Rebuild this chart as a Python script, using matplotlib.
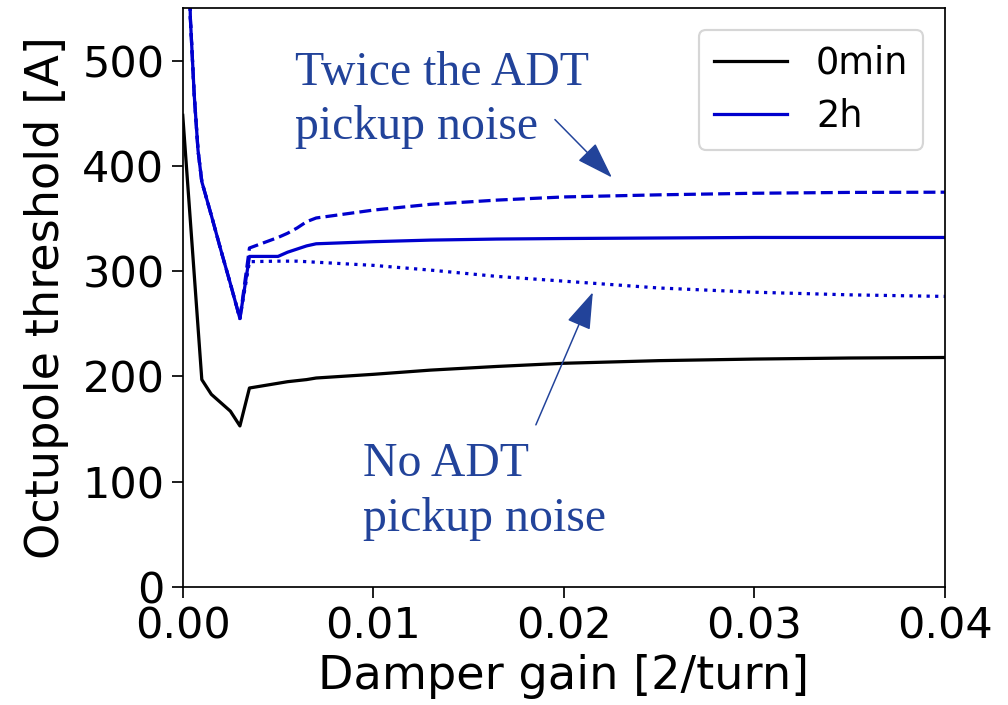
import matplotlib
matplotlib.use("Agg")
import matplotlib.pyplot as plt

# Damper gain grid [2/turn] for the start-of-fill curve
gain_0min = [0.0, 0.001, 0.0015, 0.002, 0.0025, 0.003, 0.0035, 0.005, 0.0055,
             0.006, 0.0065, 0.007, 0.01, 0.013, 0.0165, 0.02, 0.025, 0.03,
             0.035, 0.04]
threshold_0min = [448, 197, 183, 175, 167, 153, 189, 193.5, 195, 196, 197,
                  198.5, 202, 206, 209.5, 212.5, 215, 216.5, 217.5, 218]

# Damper gain grid [2/turn] for the curves after 2 h
gain_2h = [0.0, 0.0004, 0.0006, 0.0008, 0.001, 0.0015, 0.002, 0.0025, 0.003,
           0.0035, 0.005, 0.0055, 0.006, 0.0065, 0.007, 0.01, 0.013, 0.0165,
           0.02, 0.025, 0.03, 0.035, 0.04]
# nominal ADT pickup noise
threshold_2h = [900, 540, 468, 415, 385, 353, 320, 288, 255,
                314, 314, 318, 321, 324, 326, 328, 329.5, 330.5,
                331, 331.5, 332, 332, 332]
# twice the ADT pickup noise
threshold_2h_noise2x = [900, 540, 468, 415, 385, 353, 320, 288, 255,
                        322, 332, 336, 341, 347, 350.5, 358, 363.5, 367.5,
                        370.5, 372.5, 374, 374.8, 375]
# no ADT pickup noise
threshold_2h_nonoise = [900, 540, 468, 415, 385, 353, 320, 288, 255,
                        309, 309.5, 309.5, 309.5, 309, 308.5, 305.5, 301, 295,
                        290.5, 284, 280, 277.5, 276]

DPI = 155
fig = plt.figure(figsize=(1008 / DPI, 705 / DPI), dpi=DPI)
ax = fig.add_axes([0.1813, 0.1674, 0.9375 - 0.1813, 0.9887 - 0.1674])

blue = "mediumblue"
ax.plot(gain_0min, threshold_0min, color="black", lw=1.5, label="0min")
ax.plot(gain_2h, threshold_2h, color=blue, lw=1.5, label="2h")
ax.plot(gain_2h, threshold_2h_noise2x, color=blue, lw=1.5, ls="--")
ax.plot(gain_2h, threshold_2h_nonoise, color=blue, lw=1.5, ls=":")

ax.set_xlim(0, 0.04)
ax.set_ylim(0, 550)
ax.set_xticks([0.0, 0.01, 0.02, 0.03, 0.04])
ax.set_yticks([0, 100, 200, 300, 400, 500])
ax.tick_params(labelsize=20, length=5)
ax.set_xlabel("Damper gain [2/turn]", fontsize=21.5, labelpad=3)
ax.set_ylabel("Octupole threshold [A]", fontsize=21.5, labelpad=6)
ax.legend(loc="upper right", fontsize=17, handlelength=2.0,
          borderaxespad=0.6, labelspacing=0.45)

note_color = "#22439a"
note_font = dict(family="Liberation Serif", fontsize=22.2, color=note_color)
ax.text(0.00588, 477, "Twice the ADT", va="baseline", **note_font)
ax.text(0.00588, 426, "pickup noise", va="baseline", **note_font)
ax.text(0.00945, 105, "No ADT", va="baseline", **note_font)
ax.text(0.00945, 53, "pickup noise", va="baseline", **note_font)

arrow = dict(arrowstyle="-|>,head_length=1.5,head_width=0.5", mutation_scale=10,
             lw=0.7, color=note_color, shrinkA=0, shrinkB=0)
ax.annotate("", xy=(0.02252, 389), xytext=(0.01953, 444), arrowprops=arrow)
ax.annotate("", xy=(0.02152, 280), xytext=(0.01853, 154), arrowprops=arrow)

fig.savefig("out.png", dpi=DPI)
